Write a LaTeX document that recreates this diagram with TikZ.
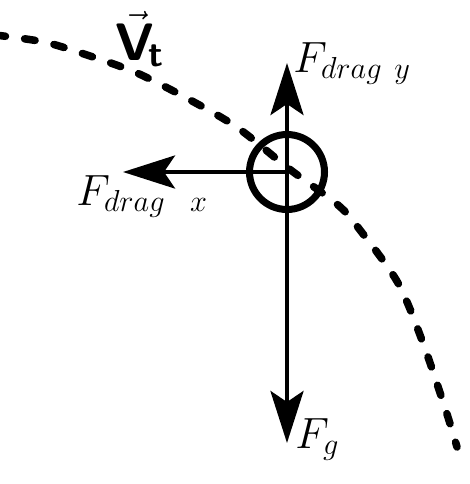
\documentclass[tikz,border=0pt]{standalone}
\usepackage{amsmath,amssymb}
\usetikzlibrary{arrows.meta}

\begin{document}
\begin{tikzpicture}[x=0.02cm, y=-0.02cm, every node/.style={font=\fontsize{24}{28}\selectfont},
    force/.style={line width=2.5pt, -{Stealth[length=1.04cm,width=0.66cm,inset=0.22cm]}}]
    \useasboundingbox (0,0) rectangle (470,484);

    % Path of the ball
    \draw[line width=4.3pt, line cap=round, dash pattern=on 6pt off 11pt]
        plot[smooth, tension=0.5] coordinates {(-5,35) (44,42) (87,55) (137,73) (192,101) (238,128) (288,168) (338,205) (360,230) (398,283) (423,343) (446,411) (457,447)};
    \node[font=\fontsize{30}{34}\selectfont, inner sep=0pt, anchor=base] (vt) at (140,60) {$\vec{\textsf{\textbf{V}}}_{\!\textsf{\textbf{t}}}$};

    % Ball
    \node[circle, draw, line width=4pt, minimum size=1.5cm, inner sep=0pt] (ball) at (287,172) {};

    % Forces
    \coordinate (up) at (287,63);
    \coordinate (down) at (287,443);
    \coordinate (left) at (123,172);
    \draw[force] (ball.center) -- (up);
    \draw[force] (ball.center) -- (down);
    \draw[force] (ball.center) -- (left);

    % Labels
    \node[anchor=base west, inner sep=0pt] (fdragy) at (293,72) {$F_{drag\ y}$};
    \node[anchor=base west, inner sep=0pt] (fdragx) at (76,205) {$F_{drag\ \ x}$};
    \node[anchor=base west, inner sep=0pt] (fg) at (295,448) {$F_g$};
\end{tikzpicture}
\end{document}
